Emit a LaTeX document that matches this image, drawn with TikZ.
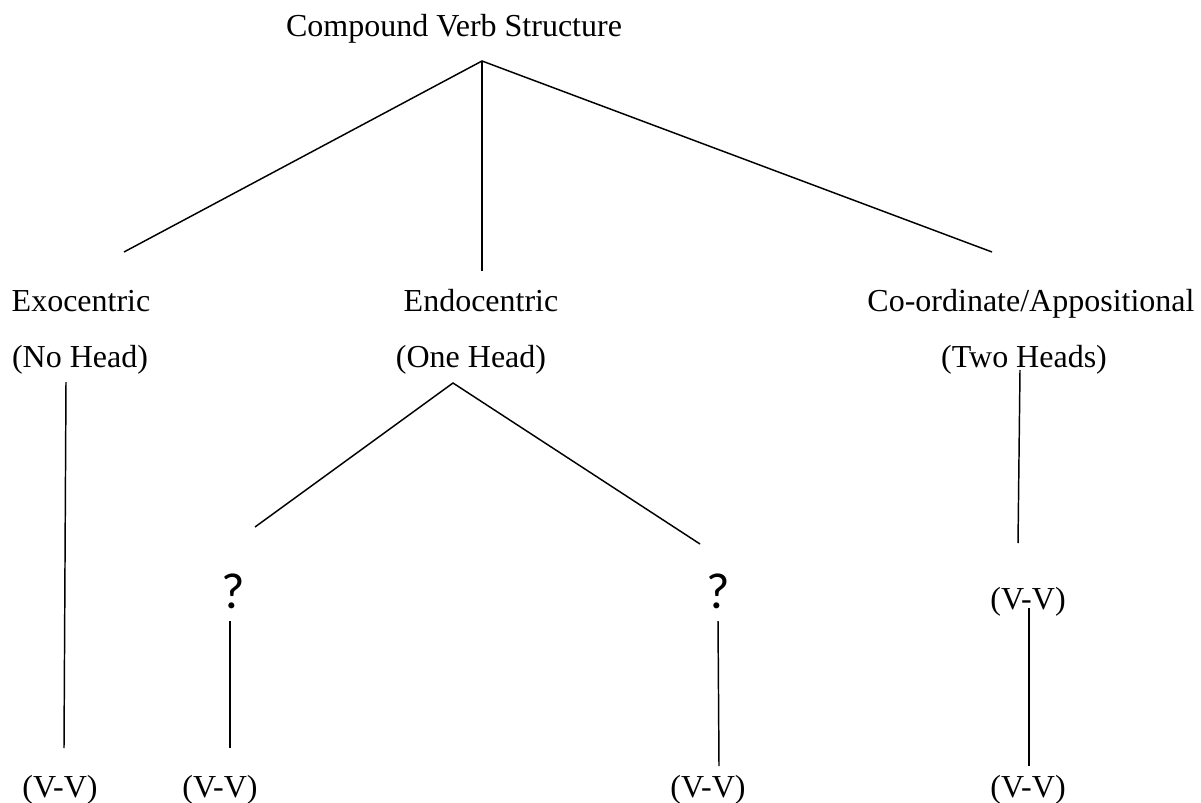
\documentclass[tikz,border=0pt]{standalone}
\usepackage{fontspec}
\setmainfont{Liberation Serif}
\newfontfamily\qfont{Carlito}
\begin{document}
\begin{tikzpicture}[x=0.75pt,y=-0.75pt,
  lbl/.style={anchor=base,inner sep=0pt,font=\fontsize{24}{28}\selectfont},
  qm/.style={anchor=base,inner sep=0pt,font=\qfont\fontsize{38}{44}\selectfont},
  edge/.style={line width=1.1pt,line cap=butt}]
\useasboundingbox (0,0) rectangle (1201,802);
% texts
\node[lbl] (root) at (454,37) {Compound Verb Structure};
\node[lbl] (exo) at (81,311) {Exocentric};
\node[lbl] (exoh) at (80,367) {(No Head)};
\node[lbl] (endo) at (481,311) {Endocentric};
\node[lbl] (endoh) at (471,367) {(One Head)};
\node[lbl] (coord) at (1031,311) {Co-ordinate/Appositional};
\node[lbl] (coordh) at (1024,367) {(Two Heads)};
\node[qm] (q1) at (233,608) {?};
\node[qm] (q2) at (718,608) {?};
\node[lbl] (vvm) at (1028,609) {(V-V)};
\node[lbl] (vv1) at (60,797) {(V-V)};
\node[lbl] (vv2) at (220,797) {(V-V)};
\node[lbl] (vv3) at (708,797) {(V-V)};
\node[lbl] (vv4) at (1028,797) {(V-V)};
% line end points
\coordinate (apex) at (482,61);
\coordinate (a1) at (124,252);
\coordinate (a2) at (482,271);
\coordinate (a3) at (992,252);
\coordinate (e1) at (66,382);
\coordinate (e2) at (64,748);
\coordinate (n0) at (453,383);
\coordinate (n1) at (255,527);
\coordinate (n2) at (700,544);
\coordinate (p1) at (230,621);
\coordinate (p2) at (230,748);
\coordinate (r1) at (718,621);
\coordinate (r2) at (719,766);
\coordinate (c1) at (1020,370);
\coordinate (c2) at (1018,543);
\coordinate (m1) at (1029,608);
\coordinate (m2) at (1029,766);
% connectors
\draw[edge] (a1) -- (apex) -- (a3);
\draw[edge] (apex) -- (a2);
\draw[edge] (e1) -- (e2);
\draw[edge] (n1) -- (n0) -- (n2);
\draw[edge] (p1) -- (p2);
\draw[edge] (r1) -- (r2);
\draw[edge] (c1) -- (c2);
\draw[edge] (m1) -- (m2);
\end{tikzpicture}
\end{document}
